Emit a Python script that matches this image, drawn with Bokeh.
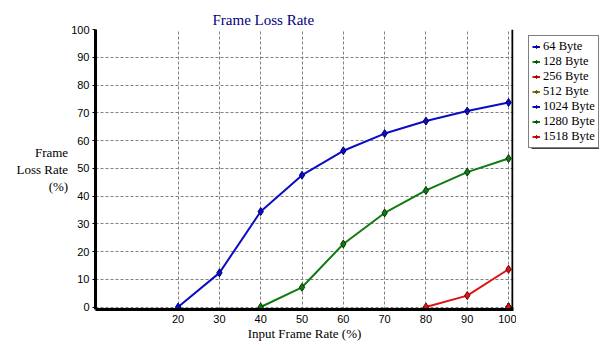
from bokeh.plotting import figure
from bokeh.layouts import row
from bokeh.models import (FixedTicker, Legend, LegendItem, Range1d, Span, BoxAnnotation)
from bokeh.embed import file_html
from bokeh.resources import INLINE

# ---- data ----
x_ticks = [20, 30, 40, 50, 60, 70, 80, 90, 100]
y_ticks = [0, 10, 20, 30, 40, 50, 60, 70, 80, 90, 100]

series_names = ["64 Byte", "128 Byte", "256 Byte", "512 Byte", "1024 Byte", "1280 Byte", "1518 Byte"]
x_64 = [20, 30, 40, 50, 60, 70, 80, 90, 100]
y_64 = [0, 12.3, 34.4, 47.5, 56.3, 62.5, 67.0, 70.6, 73.7]
x_128 = [40, 50, 60, 70, 80, 90, 100]
y_128 = [0, 7.1, 22.7, 33.9, 42.0, 48.6, 53.5]
x_256 = [80, 90, 100]
y_256 = [0, 4.1, 13.6]
x_512 = [100]
y_512 = [0]
x_1024 = [100]
y_1024 = [0]
x_1280 = [100]
y_1280 = [0]
x_1518 = [100]
y_1518 = [0]

line_colors = ["#0C0CC4", "#117A11", "#DD1414", "#808000", "#0C0CC4", "#117A11", "#DD1414"]
edge_colors = ["#000070", "#003800", "#700000", "#404000", "#000070", "#003800", "#700000"]

xs = [x_64, x_128, x_256, x_512, x_1024, x_1280, x_1518]
ys = [y_64, y_128, y_256, y_512, y_1024, y_1280, y_1518]

SERIF = "Liberation Serif"
SANS = "Liberation Sans"

p = figure(width=516, height=343, output_backend="svg", toolbar_location=None,
           x_range=Range1d(0, 101.2), y_range=Range1d(-0.9, 100),
           min_border_left=95, min_border_right=3, min_border_top=29, min_border_bottom=32,
           title="Frame Loss Rate")
p.outline_line_color = None
p.background_fill_color = "white"
p.border_fill_color = "white"

p.title.text_font = SERIF
p.title.text_font_size = "15px"
p.title.text_font_style = "normal"
p.title.text_color = "#000080"
p.title.align = "left"
p.title.offset = 117
p.title.standoff = 4

# axes
p.xaxis.ticker = FixedTicker(ticks=x_ticks)
p.yaxis.ticker = FixedTicker(ticks=y_ticks)
for ax in (p.xaxis[0], p.yaxis[0]):
    ax.axis_line_color = "black"
    ax.axis_line_width = 3
    ax.minor_tick_line_color = None
    ax.major_tick_in = 0
    ax.major_label_text_font = SANS
    ax.major_label_text_font_size = "11px"
    ax.major_label_text_color = "black"
    ax.axis_label_text_font = SERIF
    ax.axis_label_text_font_size = "13px"
    ax.axis_label_text_font_style = "normal"
    ax.axis_label_text_color = "black"
p.xaxis.major_tick_out = 0
p.xaxis.major_tick_line_color = None
p.xaxis.major_label_standoff = 5
p.xaxis.axis_label = "Input Frame Rate (%)"
p.xaxis.axis_label_standoff = 0
p.yaxis.major_tick_out = 3
p.yaxis.major_tick_line_color = "black"
p.yaxis.major_label_standoff = 3
p.yaxis.axis_label = "Frame\nLoss Rate\n(%)"
p.yaxis.axis_label_orientation = "horizontal"
p.yaxis.axis_label_text_align = "right"
p.yaxis.axis_label_text_line_height = 1.15
p.yaxis.axis_label_standoff = 0

# grid
for g in (p.xgrid[0], p.ygrid[0]):
    g.grid_line_color = "#808080"
    g.grid_line_dash = "3 2"
    g.grid_line_width = 1
p.xgrid.ticker = FixedTicker(ticks=x_ticks)
p.ygrid.ticker = FixedTicker(ticks=y_ticks)

# right border of plot area
p.add_layout(Span(location=100.95, dimension="height", line_color="black", line_width=2))

# legend panel: a small figure beside the chart (frames aligned with the chart).
# Its ranges are offset so its own copies of the series stay out of view.
LW, LH = 70, 111
lf = figure(width=83, height=343, output_backend="svg", toolbar_location=None,
            x_range=Range1d(1000, 1077), y_range=Range1d(1282, 1000),
            min_border_left=6, min_border_top=29, min_border_right=0, min_border_bottom=32)
lf.axis.visible = False
lf.grid.visible = False
lf.outline_line_color = None
lf.background_fill_color = "white"
lf.border_fill_color = "white"

# drop shadow of the legend box
lf.add_layout(BoxAnnotation(left=1009, right=1009 + LW, top=1009, bottom=1009 + LH,
                            fill_color="black", fill_alpha=1.0, line_color=None))

items = []
for name, xv, yv, lc, ec in zip(series_names, xs, ys, line_colors, edge_colors):
    p.line(xv, yv, line_color=lc, line_width=2)
    p.scatter(xv, yv, marker="diamond", size=8, fill_color=lc, line_color=ec, line_width=1)
    l1 = lf.line(xv, yv, line_color=lc, line_width=2)
    l2 = lf.scatter(xv, yv, marker="diamond", size=8, fill_color=lc, line_color=ec, line_width=1)
    items.append(LegendItem(label=name, renderers=[l1, l2]))

legend = Legend(items=items, location="top_left", orientation="vertical",
                label_text_font=SERIF, label_text_font_size="12.5px",
                label_text_color="black",
                label_height=15, glyph_height=15, glyph_width=8, label_standoff=3,
                spacing=0, padding=3, margin=6,
                border_line_color="black", border_line_width=1,
                background_fill_color="white", background_fill_alpha=1.0)
lf.add_layout(legend, "center")

layout = row(p, lf)
open("out.html", "w").write(file_html(layout, INLINE))
